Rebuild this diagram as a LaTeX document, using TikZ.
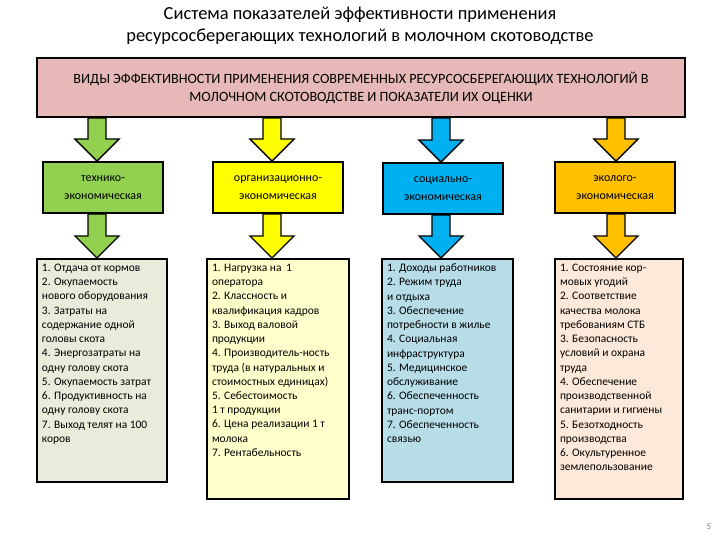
\documentclass[tikz,border=0pt]{standalone}
\usepackage{fontspec}
\setmainfont{Carlito}
\usetikzlibrary{calc,positioning}
\definecolor{TopPink}{HTML}{E6B9B8}
\definecolor{Green}{HTML}{92D050}
\definecolor{Yellow}{HTML}{FFFF00}
\definecolor{Blue}{HTML}{00B0F0}
\definecolor{Orange}{HTML}{FFC000}
\definecolor{SoftGreen}{HTML}{EBEBDC}
\definecolor{SoftYellow}{HTML}{FFFFCC}
\definecolor{SoftBlue}{HTML}{B7DDE8}
\definecolor{SoftOrange}{HTML}{FDE9D9}
\definecolor{PageGray}{HTML}{7F7F7F}

% block arrow from #1 down to #2, filled with #3
\newcommand{\blockarrow}[3]{%
  \filldraw[fill=#3,draw=black,line width=1.3bp,line join=miter]
    let \p1=(#1), \p2=(#2) in
    (\x1-9bp,\y1) -- (\x1+9bp,\y1) -- (\x1+9bp,\y2+22bp) -- (\x1+22bp,\y2+22bp)
    -- (\x2,\y2) -- (\x1-22bp,\y2+22bp) -- (\x1-9bp,\y2+22bp) -- cycle;}

\begin{document}
\begin{tikzpicture}[
  x=1bp,y=-1bp,
  headbox/.style={draw=black,fill=TopPink,line width=1.8bp,minimum width=648bp,minimum height=59bp,align=center,font=\fontsize{14.2}{18}\selectfont},
  kindbox/.style={draw=black,line width=1.8bp,minimum height=51bp,align=center,inner sep=0pt,font=\fontsize{12}{17.5}\selectfont},
  listbox/.style={draw=black,line width=1.8bp,anchor=north,inner xsep=5bp,inner ysep=5bp,font=\fontsize{11.5}{14.3}\selectfont}
]
\useasboundingbox (0,0) rectangle (720,540);

\node[align=center,font=\fontsize{18.5}{22}\selectfont] (title) at (360,26)
  {Система показателей эффективности применения\\ресурсосберегающих технологий в молочном скотоводстве};

\node[headbox] (top) at (361,87.5)
  {ВИДЫ ЭФФЕКТИВНОСТИ ПРИМЕНЕНИЯ СОВРЕМЕННЫХ РЕСУРСОСБЕРЕГАЮЩИХ ТЕХНОЛОГИЙ В\\МОЛОЧНОМ СКОТОВОДСТВЕ И ПОКАЗАТЕЛИ ИХ ОЦЕНКИ};

% kinds of efficiency
\node[kindbox,fill=Green,minimum width=120bp] (tech) at (103,187.5) {технико-\\экономическая};
\node[kindbox,fill=Yellow,minimum width=130bp] (org) at (278,187.5) {организационно-\\экономическая};
\node[kindbox,fill=Blue,minimum width=120bp] (soc) at (443,188.5) {социально-\\экономическая};
\node[kindbox,fill=Orange,minimum width=120bp] (eco) at (615,187.5) {эколого-\\экономическая};

% indicators
\node[listbox,fill=SoftGreen] (techlist) at (102,258) {\parbox[c][213bp][t]{120bp}{%
1. Отдача от кормов\\
2. Окупаемость\\
нового оборудования\\
3. Затраты на\\
содержание одной\\
головы скота\\
4. Энергозатраты на\\
одну голову скота\\
5. Окупаемость затрат\\
6. Продуктивность на\\
одну голову скота\\
7. Выход телят на 100\\
коров}};
\node[listbox,fill=SoftYellow] (orglist) at (278,258) {\parbox[c][230bp][t]{132bp}{%
1. Нагрузка на \,1\\
оператора\\
2. Классность и\\
квалификация кадров\\
3. Выход валовой\\
продукции\\
4. Производитель-ность\\
труда (в натуральных и\\
стоимостных единицах)\\
5. Себестоимость\\
1 т продукции\\
6. Цена реализации 1 т\\
молока\\
7. Рентабельность}};
\node[listbox,fill=SoftBlue] (soclist) at (447.5,258) {\parbox[c][213bp][t]{121bp}{%
1. Доходы работников\\
2. Режим труда\\
и отдыха\\
3. Обеспечение\\
потребности в жилье\\
4. Социальная\\
инфраструктура\\
5. Медицинское\\
обслуживание\\
6. Обеспеченность\\
транс-портом\\
7. Обеспеченность\\
связью}};
\node[listbox,fill=SoftOrange] (ecolist) at (619,258) {\parbox[c][230bp][t]{118bp}{%
1. Состояние кор-\\
мовых угодий\\
2. Соответствие\\
качества молока\\
требованиям СТБ\\
3. Безопасность\\
условий и охрана\\
труда\\
4. Обеспечение\\
производственной\\
санитарии и гигиены\\
5. Безотходность\\
производства\\
6. Окультуренное\\
землепользование}};

\coordinate (c1) at (97,0);
\coordinate (c2) at (272,0);
\coordinate (c3) at (441,0);
\coordinate (c4) at (616,0);

\blockarrow{top.south -| c1}{tech.north -| c1}{Green}
\blockarrow{top.south -| c2}{org.north -| c2}{Yellow}
\blockarrow{top.south -| c3}{soc.north -| c3}{Blue}
\blockarrow{top.south -| c4}{eco.north -| c4}{Orange}
\blockarrow{tech.south -| c1}{techlist.north -| c1}{Green}
\blockarrow{org.south -| c2}{orglist.north -| c2}{Yellow}
\blockarrow{soc.south -| c3}{soclist.north -| c3}{Blue}
\blockarrow{eco.south -| c4}{ecolist.north -| c4}{Orange}

\node[text=PageGray,font=\fontsize{9}{10}\selectfont] (page) at (709,527) {5};
\end{tikzpicture}
\end{document}
